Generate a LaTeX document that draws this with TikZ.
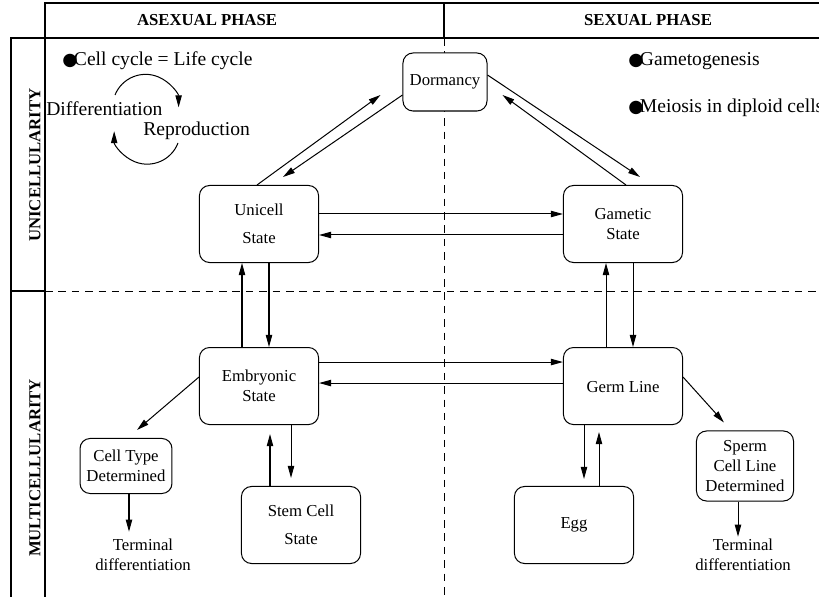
\documentclass[tikz,border=0pt]{standalone}
\usepackage{fontspec}
\setmainfont{Liberation Serif}
\newfontfamily\dotfont{DejaVu Sans}
\newcommand{\bigdot}{{\dotfont\fontsize{10.5}{12}\selectfont ●}\hspace{-2.2pt}}
\usetikzlibrary{arrows.meta, positioning, calc}

\begin{document}
\begin{tikzpicture}[
    x=0.021cm, y=-0.021cm,
    statebox/.style={rectangle, rounded corners=6pt, draw, fill=white, line width=0.6pt, minimum width=2.5cm, minimum height=1.617cm, inner sep=0pt, align=center, font=\fontsize{10}{12}\selectfont},
    smallbox/.style={statebox, minimum width=1.93cm, minimum height=1.155cm},
    phase/.style={font=\bfseries\fontsize{10}{12}\selectfont},
    note/.style={font=\fontsize{11.7}{14}\selectfont, inner sep=0pt, anchor=west},
    plain/.style={font=\fontsize{10}{12}\selectfont, align=center, inner sep=0pt},
    divider/.style={dash pattern=on 4.5pt off 3.5pt, line width=0.5pt},
    frame/.style={line width=0.8pt},
    arrow/.style={line width=0.6pt, -{Triangle[length=7.2pt, width=3.8pt]}}
]

\useasboundingbox (0,0) rectangle (819,597);

% Frame and phase dividers
\draw[frame] (45,597) -- (45,3) -- (822,3);
\draw[frame] (11,597) -- (11,38) -- (822,38);
\draw[frame] (11,291) -- (45,291);
\draw[frame] (444,3) -- (444,38);
\draw[divider] (444,38) -- (444,597);
\draw[divider] (45,291) -- (819,291);

\node[phase] (asexual) at (207,20) {ASEXUAL PHASE};
\node[phase] (sexual) at (648,20) {SEXUAL PHASE};
\node[phase, rotate=90] (unicellularity) at (35,165) {UNICELLULARITY};
\node[phase, rotate=90] (multicellularity) at (35,468) {MULTICELLULARITY};

% States
\node[statebox, minimum width=1.764cm, minimum height=1.218cm] (dorm) at (445,82) {Dormancy};
\node[statebox] (unicell) at (259,224) {Unicell\\[4.8pt]State};
\node[statebox] (gametic) at (623,224) {Gametic\\State};
\node[statebox, below=1.764cm of unicell] (embryo) {Embryonic\\State};
\node[statebox, below=1.764cm of gametic] (germ) {\raisebox{-8pt}{Germ Line}};
\node[smallbox] (celltype) at (126,466) {Cell Type\\Determined};
\node[statebox] (stem) at (301,525) {Stem Cell\\[4.8pt]State};
\node[statebox] (egg) at (574,525) {Egg};
\node[smallbox, minimum width=2.037cm, minimum height=1.47cm] (sperm) at (745,466) {Sperm\\Cell Line\\Determined};
\node[plain] (termleft) at (143,555) {Terminal\\differentiation};
\node[plain] (termright) at (743,555) {Terminal\\differentiation};

% Notes
\node[note] (cyclenote) at (62,61) {\bigdot Cell cycle = Life cycle};
\node[note] (diffnote) at (46,109) {Differentiation};
\node[note] (repronote) at (143,131) {Reproduction};
\node[note] (gametonote) at (628,61) {\bigdot Gametogenesis};
\node[note] (meiosisnote) at (628,108) {\bigdot Meiosis in diploid cells};

\coordinate (cycletop) at (115,95);
\coordinate (cyclebottom) at (178,143);
\draw[arrow] (cycletop) arc[start angle=158, end angle=0, radius=0.693cm];
\draw[arrow] (cyclebottom) arc[start angle=-21, end angle=-180, radius=0.693cm];

% Connectors
\draw[arrow] ($(unicell.north)+(-2,0)$) -- ($(dorm.west)+(-22,13)$);
\draw[arrow] ($(dorm.west)+(0,13)$) -- ($(unicell.north)+(24,-8)$);
\draw[arrow] ($(dorm.east)+(0,-7)$) -- ($(gametic.north)+(17,-8)$);
\draw[arrow] ($(gametic.north)+(3,0)$) -- ($(dorm.east)+(15,13)$);
\draw[arrow] ($(unicell.east)+(0,-10)$) -- ($(gametic.west)+(0,-10)$);
\draw[arrow] ($(gametic.west)+(0,11)$) -- ($(unicell.east)+(0,11)$);
\draw[arrow] ($(embryo.north)+(-17,0)$) -- ($(unicell.south)+(-17,0)$);
\draw[arrow] ($(unicell.south)+(10,0)$) -- ($(embryo.north)+(10,0)$);
\draw[arrow] ($(germ.north)+(-17,0)$) -- ($(gametic.south)+(-17,0)$);
\draw[arrow] ($(gametic.south)+(10,0)$) -- ($(germ.north)+(10,0)$);
\draw[arrow] ($(embryo.east)+(0,-24)$) -- ($(germ.west)+(0,-24)$);
\draw[arrow] ($(germ.west)+(0,-3)$) -- ($(embryo.east)+(0,-3)$);
\draw[arrow] ($(embryo.west)+(0,-9)$) -- ($(celltype.north)+(11,-8)$);
\draw[arrow] ($(embryo.south)+(32,0)$) -- ($(stem.north)+(-10,-8)$);
\draw[arrow] ($(stem.north)+(-31,0)$) -- ($(embryo.south)+(11,9)$);
\draw[arrow] ($(germ.south)+(-39,0)$) -- ($(egg.north)+(10,-7)$);
\draw[arrow] ($(egg.north)+(25,0)$) -- ($(germ.south)+(-24,7)$);
\draw[arrow] ($(germ.east)+(0,-9)$) -- ($(sperm.north)+(-21,-8)$);
\draw[arrow] ($(celltype.south)+(3,0)$) -- ($(termleft.north)+(-14,-7)$);
\draw[arrow] ($(sperm.south)+(-7,0)$) -- ($(termright.north)+(-5,-2)$);

\end{tikzpicture}
\end{document}
